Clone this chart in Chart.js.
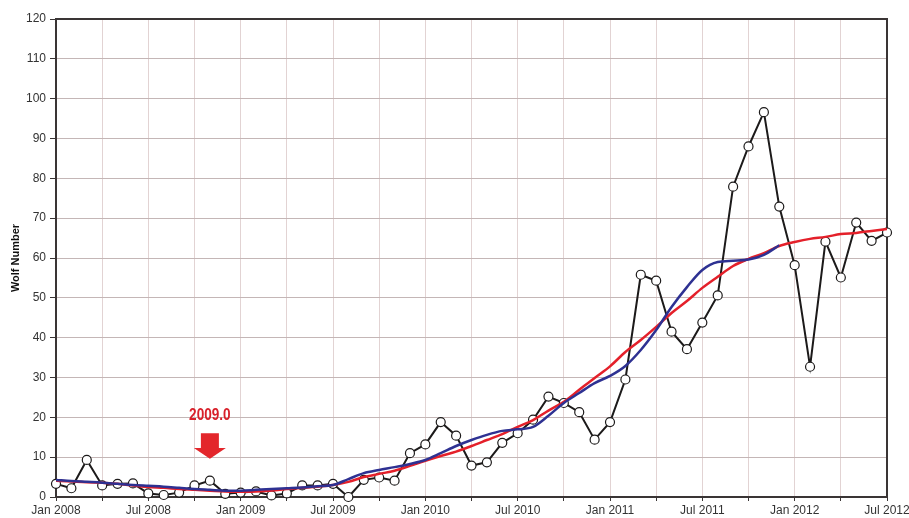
<!DOCTYPE html>
<html>
<head>
<meta charset="utf-8">
<script src="https://cdn.jsdelivr.net/npm/chart.js@4.4.1/dist/chart.umd.min.js"></script>
<style>
  html, body { margin: 0; padding: 0; background: #fff; }
  #wrap { width: 909px; height: 518px; position: relative; }
</style>
</head>
<body>
<div id="wrap"><canvas id="wolf"></canvas></div>
<script>
// monthly Wolf numbers, Jan 2008 .. Jul 2012 (index 0 = Jan 2008)
const wolfMonthly = [
  3.3, 2.2, 9.3, 2.9, 3.3, 3.4, 0.9, 0.5, 1.1, 2.9, 4.1, 0.8,
  1.1, 1.4, 0.4, 0.9, 2.9, 2.9, 3.3, 0.0, 4.3, 4.9, 4.1, 11.0,
  13.2, 18.8, 15.4, 7.9, 8.7, 13.6, 16.0, 19.4, 25.2, 23.6, 21.3, 14.4,
  18.8, 29.5, 55.8, 54.3, 41.5, 37.1, 43.8, 50.6, 77.9, 88.0, 96.6, 72.9,
  58.2, 32.7, 64.1, 55.1, 68.9, 64.3, 66.4
];

// red smooth curve (fit), same months
const fitCurve = [
  4.1, 3.9, 3.7, 3.6, 3.3, 2.9, 2.5, 2.3, 2.0, 1.8, 1.6, 1.4,
  1.3, 1.4, 1.6, 2.0, 2.3, 2.6, 3.0, 3.8, 5.0, 5.8, 6.6, 7.8,
  9.1, 10.3, 11.4, 12.8, 14.3, 15.8, 17.6, 19.3, 21.7, 23.9, 26.9, 29.9,
  32.8, 36.4, 39.4, 42.7, 46.2, 49.2, 52.5, 55.3, 58.0, 59.8, 61.2, 63.0,
  64.0, 64.8, 65.3, 66.0, 66.3, 66.8, 67.3
];

// blue smoothed curve, ends Dec 2011
const smoothed = [
  4.3, 4.0, 3.8, 3.6, 3.3, 3.0, 2.8, 2.6, 2.3, 2.0, 1.8, 1.6,
  1.6, 1.8, 2.0, 2.2, 2.4, 2.7, 3.0, 4.5, 6.0, 6.8, 7.5, 8.3,
  9.3, 11.0, 12.8, 14.3, 15.6, 16.6, 17.0, 17.6, 20.4, 23.6, 26.1, 28.6,
  30.4, 32.9, 36.9, 41.9, 47.7, 52.7, 57.0, 59.0, 59.3, 59.6, 60.8, 63.2
];

const xTickLabels = ['Jan 2008', 'Jul 2008', 'Jan 2009', 'Jul 2009', 'Jan 2010',
  'Jul 2010', 'Jan 2011', 'Jul 2011', 'Jan 2012', 'Jul 2012'];

const markerMonth = 10;      // where the "2009.0" arrow sits
const markerText = '2009.0';

const toXY = arr => arr.map((v, i) => ({ x: i, y: v }));

// frame + arrow annotation
const extras = {
  id: 'extras',
  beforeDatasetsDraw(chart) {
    const { ctx, chartArea: a } = chart;
    ctx.save();
    ctx.strokeStyle = '#3a3535';
    ctx.lineWidth = 2;
    ctx.beginPath();
    ctx.moveTo(a.left, a.top);
    ctx.lineTo(a.right, a.top);
    ctx.lineTo(a.right, a.bottom);
    ctx.stroke();
    ctx.restore();
  },
  afterDatasetsDraw(chart) {
    const { ctx } = chart;
    const xs = chart.scales.x, ys = chart.scales.y;
    const cx = xs.getPixelForValue(markerMonth);
    const top = ys.getPixelForValue(16), mid = ys.getPixelForValue(12.3), tip = ys.getPixelForValue(9.6);
    ctx.save();
    ctx.fillStyle = '#e3262b';
    ctx.beginPath();
    ctx.moveTo(cx - 9, top);
    ctx.lineTo(cx + 9, top);
    ctx.lineTo(cx + 9, mid);
    ctx.lineTo(cx + 16, mid);
    ctx.lineTo(cx, tip);
    ctx.lineTo(cx - 16, mid);
    ctx.lineTo(cx - 9, mid);
    ctx.closePath();
    ctx.fill();
    // condensed bold label
    ctx.translate(cx, ys.getPixelForValue(20.6));
    ctx.scale(0.8, 1);
    ctx.font = 'bold 17px Arial, "Liberation Sans", sans-serif';
    ctx.textAlign = 'center';
    ctx.textBaseline = 'middle';
    ctx.fillStyle = '#d8202a';
    ctx.fillText(markerText, 0, 0);
    ctx.restore();
  }
};

new Chart(document.getElementById('wolf'), {
  type: 'line',
  data: {
    datasets: [
      {
        data: toXY(wolfMonthly),
        borderColor: '#1c1a1a',
        borderWidth: 2,
        pointRadius: 4.5,
        pointBackgroundColor: '#fff',
        pointBorderColor: '#1c1a1a',
        pointBorderWidth: 1.2,
        tension: 0,
        clip: false,
        order: 3
      },
      {
        data: toXY(fitCurve),
        borderColor: '#e4202a',
        borderWidth: 2.5,
        pointRadius: 0,
        cubicInterpolationMode: 'monotone',
        order: 2
      },
      {
        data: toXY(smoothed),
        borderColor: '#2e3192',
        borderWidth: 2.5,
        pointRadius: 0,
        cubicInterpolationMode: 'monotone',
        order: 1
      }
    ]
  },
  options: {
    responsive: true,
    maintainAspectRatio: false,
    animation: false,
    events: [],
    layout: { padding: { top: 19, right: 22, bottom: 0, left: 0 } },
    plugins: { legend: { display: false }, tooltip: { enabled: false } },
    scales: {
      x: {
        type: 'linear',
        min: 0,
        max: wolfMonthly.length - 1,
        afterBuildTicks: s => {
          const t = [];
          for (let v = 0; v <= wolfMonthly.length - 1; v += 3) t.push({ value: v });
          s.ticks = t;
        },
        afterFit: s => { s.height = 21; s.paddingLeft = 0; s.paddingRight = 0; },
        border: { color: '#3a3535', width: 2 },
        grid: { color: '#e2d3d3', lineWidth: 1, tickColor: '#3a3535', tickLength: 4 },
        ticks: {
          autoSkip: false,
          maxRotation: 0,
          padding: 2,
          color: '#333',
          font: { family: 'Arial, "Liberation Sans", sans-serif', size: 12 },
          callback: v => (v % 6 === 0 ? xTickLabels[v / 6] : '')
        }
      },
      y: {
        min: 0,
        max: 120,
        afterFit: s => { s.width = 56; s.paddingTop = 0; s.paddingBottom = 0; },
        border: { color: '#3a3535', width: 2 },
        grid: { color: '#c4b6b6', lineWidth: 1, tickColor: '#3a3535', tickLength: 6 },
        ticks: {
          stepSize: 10,
          padding: 4,
          color: '#333',
          font: { family: 'Arial, "Liberation Sans", sans-serif', size: 12 }
        },
        title: {
          display: true,
          text: 'Wolf Number',
          color: '#111',
          padding: { top: 9, bottom: 0 },
          font: { family: 'Arial, "Liberation Sans", sans-serif', size: 11, weight: 'bold' }
        }
      }
    }
  },
  plugins: [extras]
});
</script>
</body>
</html>
